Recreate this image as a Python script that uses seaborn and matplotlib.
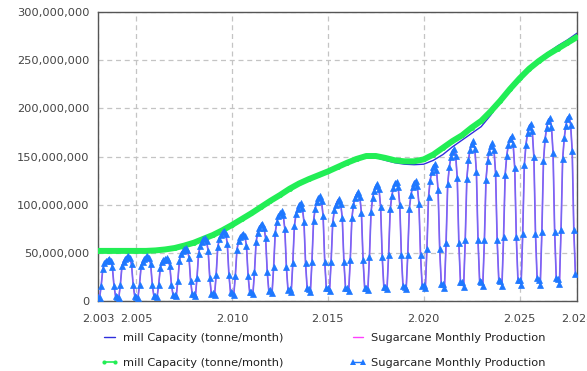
import numpy as np
import pandas as pd
import matplotlib
matplotlib.use("Agg")
import matplotlib.pyplot as plt
from matplotlib.lines import Line2D
import seaborn as sns

# ---------------- data (values in millions of tonnes) ----------------
cap_years = [2003.0, 2003.5, 2004.0, 2004.5, 2005.0, 2005.5, 2006.0, 2006.5, 2007.0, 2007.5,
             2008.0, 2008.5, 2009.0, 2009.5, 2010.0, 2010.5, 2011.0, 2011.5, 2012.0, 2012.5,
             2013.0, 2013.5, 2014.0, 2014.5, 2015.0, 2015.5, 2016.0, 2016.5, 2017.0, 2017.5,
             2018.0, 2018.5, 2019.0, 2019.5, 2020.0, 2020.5, 2021.0, 2021.5, 2022.0, 2022.5,
             2023.0, 2023.5, 2024.0, 2024.5, 2025.0, 2025.5, 2026.0, 2026.5, 2027.0, 2027.5,
             2028.0]
mill_cap_blue = [52, 52, 52, 52, 52, 52, 52.5, 53.5, 55, 57.5,
                 60.5, 64.5, 68.5, 73.5, 79, 85, 91, 97.5, 104, 110,
                 116.5, 122, 126.5, 130.5, 134.5, 139, 143.5, 147.5, 150, 149,
                 146, 143.5, 142, 141.5, 142, 146, 152, 160, 167, 174,
                 181, 193, 207, 220, 232, 243, 251, 258, 265, 271,
                 278]
mill_cap_green = [52, 52, 52, 52, 52, 52, 52.5, 53.5, 55, 57.5,
                  60.5, 64.5, 68.5, 73.5, 79, 85, 91, 97.5, 104, 110,
                  116.5, 122, 126.5, 130.5, 134.5, 139, 143.5, 147.5, 150.5, 150.5,
                  148.5, 146, 145, 145, 147, 152, 159, 166, 172, 180,
                  187, 197, 208, 220, 231, 241, 249, 256, 262, 268,
                  274]

prod_2003 = [4, 3, 16, 33, 39, 42, 43, 44, 42, 35, 16, 5]
prod_2004 = [4, 3, 17, 36, 41, 44, 46, 47, 45, 38, 17, 5]
prod_2005 = [4, 3, 17, 36, 41, 44, 46, 47, 45, 38, 17, 5]
prod_2006 = [5, 4, 17, 34, 40, 43, 44, 45, 43, 36, 17, 6]
prod_2007 = [6, 5, 21, 42, 49, 52, 54, 55, 53, 45, 21, 7]
prod_2008 = [7, 5, 24, 49, 57, 61, 64, 65, 62, 52, 24, 7]
prod_2009 = [8, 6, 27, 56, 64, 69, 72, 73, 70, 59, 27, 9]
prod_2010 = [8, 6, 26, 53, 62, 66, 69, 70, 67, 57, 26, 9]
prod_2011 = [9, 7, 30, 61, 71, 76, 79, 80, 76, 65, 30, 10]
prod_2012 = [11, 8, 35, 71, 82, 88, 91, 93, 89, 75, 35, 11]
prod_2013 = [12, 9, 39, 78, 90, 96, 100, 102, 97, 82, 39, 13]
prod_2014 = [12, 9, 41, 83, 96, 103, 107, 109, 104, 88, 41, 13]
prod_2015 = [13, 10, 41, 81, 94, 100, 104, 106, 101, 86, 41, 14]
prod_2016 = [13, 10, 43, 86, 100, 107, 111, 113, 108, 91, 43, 14]
prod_2017 = [14, 11, 46, 92, 107, 114, 119, 121, 116, 98, 46, 15]
prod_2018 = [15, 12, 48, 95, 109, 117, 122, 124, 118, 100, 48, 16]
prod_2019 = [15, 12, 48, 96, 110, 118, 123, 125, 119, 101, 48, 16]
prod_2020 = [17, 13, 54, 108, 125, 134, 139, 142, 136, 115, 54, 18]
prod_2021 = [18, 14, 60, 121, 139, 149, 155, 158, 151, 128, 60, 20]
prod_2022 = [20, 15, 63, 127, 146, 157, 163, 166, 158, 134, 63, 21]
prod_2023 = [20, 16, 63, 126, 145, 155, 161, 164, 157, 133, 63, 22]
prod_2024 = [21, 16, 66, 131, 151, 162, 168, 171, 163, 138, 66, 22]
prod_2025 = [22, 17, 70, 141, 162, 174, 181, 184, 176, 149, 70, 24]
prod_2026 = [22, 17, 72, 145, 168, 180, 187, 190, 181, 154, 72, 24]
prod_2027 = [23, 18, 74, 147, 169, 182, 189, 192, 183, 156, 74, 28]

x_ticks = [2003, 2005, 2010, 2015, 2020, 2025, 2028]
x_tick_labels = ["2.003", "2.005", "2.010", "2.015", "2.020", "2.025", "2.028"]
y_ticks = [0, 50e6, 100e6, 150e6, 200e6, 250e6, 300e6]
y_tick_labels = ["0", "50,000,000", "100,000,000", "150,000,000",
                 "200,000,000", "250,000,000", "300,000,000"]

label_cap = "mill Capacity (tonne/month)"
label_prod = "Sugarcane Monthly Production"

# ---------------- build frames ----------------
prod_years = [prod_2003, prod_2004, prod_2005, prod_2006, prod_2007, prod_2008, prod_2009,
              prod_2010, prod_2011, prod_2012, prod_2013, prod_2014, prod_2015, prod_2016,
              prod_2017, prod_2018, prod_2019, prod_2020, prod_2021, prod_2022, prod_2023,
              prod_2024, prod_2025, prod_2026, prod_2027]
prod_t, prod_v = [], []
for i, yr_vals in enumerate(prod_years):
    for m, v in enumerate(yr_vals):
        prod_t.append(2003 + i + m / 12.0)
        prod_v.append(v * 1e6)
df_prod = pd.DataFrame({"t": prod_t, "v": prod_v})
df_cap_b = pd.DataFrame({"t": cap_years, "v": np.array(mill_cap_blue) * 1e6})
df_cap_g = pd.DataFrame({"t": cap_years, "v": np.array(mill_cap_green) * 1e6})

# ---------------- plot ----------------
sns.set_style("white")
plt.rcParams["font.family"] = ["DejaVu Sans"]

BLUE_CAP = "#2f2fdc"
GREEN = "#22ee55"
MAGENTA = "#ff40ff"
TRI = "#1e78ff"
TRI_LINE = "#7468f2"

fig = plt.figure(figsize=(5.87, 3.71), dpi=100)
ax = fig.add_axes([98 / 587, 1 - 301 / 371, (577 - 98) / 587, (301 - 12) / 371])

sns.lineplot(data=df_cap_b, x="t", y="v", ax=ax, color=BLUE_CAP, lw=1.0, zorder=2)
sns.lineplot(data=df_cap_g, x="t", y="v", ax=ax, color=GREEN, lw=4.3,
             marker="o", markersize=3.5, markeredgewidth=0, zorder=3)
sns.lineplot(data=df_prod, x="t", y="v", ax=ax, color=MAGENTA, lw=0.9, zorder=4)
sns.lineplot(data=df_prod, x="t", y="v", ax=ax, color=TRI_LINE, lw=1.2,
             marker="^", markersize=5, markerfacecolor=TRI,
             markeredgecolor=TRI, markeredgewidth=0.5, zorder=5)

ax.set_xlim(2003, 2028)
ax.set_ylim(0, 300e6)
ax.set_xticks(x_ticks)
ax.set_xticklabels(x_tick_labels)
ax.set_yticks(y_ticks)
ax.set_yticklabels(y_tick_labels)
ax.set_xlabel("")
ax.set_ylabel("")
ax.grid(True, color="#c4c4c4", linestyle=(0, (4, 3)), linewidth=0.9)
ax.set_axisbelow(True)
for s in ax.spines.values():
    s.set_color("#555555")
    s.set_linewidth(1.0)
ax.tick_params(axis="both", which="major", length=4, width=1, color="#555555",
               labelsize=8.2, labelcolor="#444444", pad=2, direction="out")
ax.tick_params(axis="x", pad=5)

handles = [
    Line2D([], [], color=BLUE_CAP, lw=1.0),
    Line2D([], [], color=GREEN, lw=1.2, marker="o", markersize=3, markeredgewidth=0),
    Line2D([], [], color=MAGENTA, lw=1.0),
    Line2D([], [], color=TRI, lw=1.0, marker="^", markersize=4, markeredgewidth=0),
]
labels = [label_cap, label_cap, label_prod, label_prod]
fig.legend(handles, labels, ncol=2, loc="upper left",
           bbox_to_anchor=(101 / 587, 1 - 333 / 371), frameon=False,
           fontsize=8.2, labelcolor="#222222", handlelength=1.5, handletextpad=0.4,
           columnspacing=5.85, labelspacing=1.3, borderpad=0, borderaxespad=0,
           numpoints=2)

fig.savefig("out.png", dpi=100)
